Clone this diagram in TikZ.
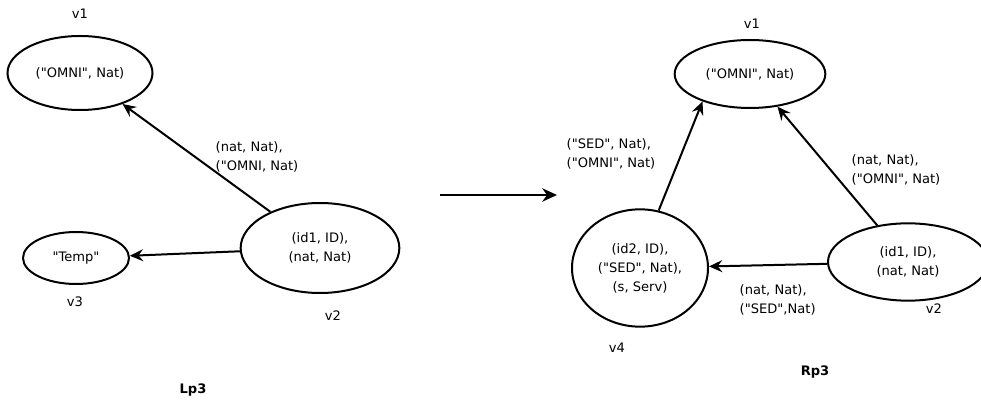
\documentclass[tikz,border=0pt]{standalone}
\usepackage{fontspec}
\setmainfont{DejaVu Sans}[Ligatures=TeXOff]
\usetikzlibrary{shapes.geometric,arrows.meta}

\begin{document}
\begin{tikzpicture}[
    x=0.75pt, y=-0.75pt,
    state/.style={ellipse, draw, line width=1.5pt, inner sep=0pt, align=center, font=\fontsize{9.8}{14.2}\selectfont},
    vname/.style={font=\fontsize{9.8}{11}\selectfont},
    elabel/.style={anchor=west, align=left, font=\fontsize{9.8}{14.2}\selectfont},
    gname/.style={font=\bfseries\fontsize{9.8}{11}\selectfont},
    arrow/.style={->, >={Stealth[length=10pt, width=9pt, inset=3.5pt]}, line width=1.5pt}
]
\useasboundingbox (0,0) rectangle (981,402);
% Left graph Lp3
\node[state, minimum width=108.75pt, minimum height=55.5pt] (l1) at (80,73) {("OMNI", Nat)};
\node[state, minimum width=79.5pt, minimum height=39pt] (l3) at (76,258) {"Temp"};
\node[state, minimum width=119pt, minimum height=67.5pt] (l2) at (320,248) {(id1, ID),\\(nat, Nat)};
\node[vname] (l1name) at (80,14) {v1};
\node[vname] (l3name) at (75,302) {v3};
\node[vname] (l2name) at (333,316) {v2};
\draw[arrow] (l2) -- (l1);
\draw[arrow] (l2) -- (l3);
\node[elabel] (l21lbl) at (211,157) {(nat, Nat),\\("OMNI, Nat)};
\node[gname] (lp3) at (193,390) {Lp3};
% Rewrite arrow
\coordinate (shiftA) at (440,195);
\coordinate (shiftB) at (557,195);
\draw[->, >={Stealth[length=11pt, width=10pt, inset=3.5pt]}, line width=2.2pt] (shiftA) -- (shiftB);
% Right graph Rp3
\node[state, minimum width=113pt, minimum height=51pt] (r1) at (750,74) {("OMNI", Nat)};
\node[state, minimum width=102pt, minimum height=88pt] (r4) at (640,268) {(id2, ID),\\("SED", Nat),\\(s, Serv)};
\node[state, minimum width=120pt, minimum height=58pt] (r2) at (908,262) {(id1, ID),\\(nat, Nat)};
\node[vname] (r1name) at (752,24) {v1};
\node[vname] (r4name) at (617,348) {v4};
\node[vname] (r2name) at (934,309) {v2};
\draw[arrow] (r4.72) -- (r1.210);
\draw[arrow] (r2) -- (r1);
\draw[arrow] (r2) -- (r4);
\node[elabel] (r41lbl) at (562,154) {("SED", Nat),\\("OMNI", Nat)};
\node[elabel] (r21lbl) at (847,170) {(nat, Nat),\\("OMNI", Nat)};
\node[elabel] (r24lbl) at (735,300) {(nat, Nat),\\("SED",Nat)};
\node[gname] (rp3) at (815,372) {Rp3};
\end{tikzpicture}
\end{document}
